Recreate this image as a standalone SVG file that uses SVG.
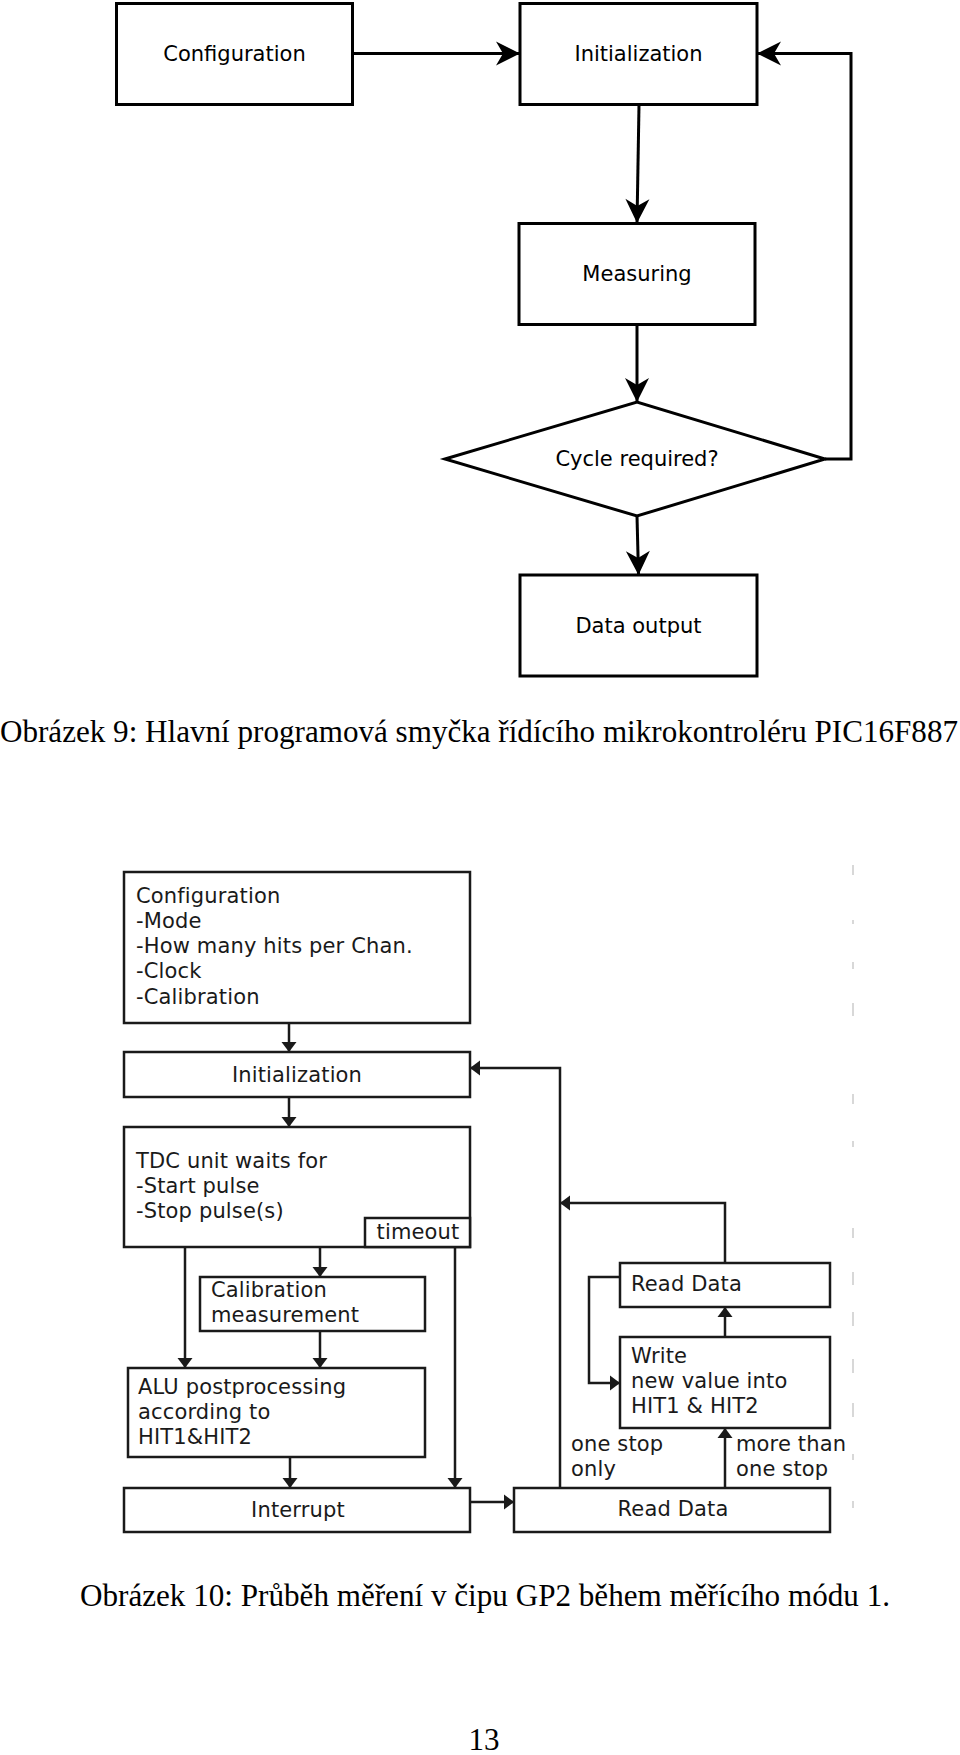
<svg xmlns="http://www.w3.org/2000/svg" width="960" height="1755" viewBox="0 0 960 1755">
<style>
.b1{fill:#fff;stroke:#000;stroke-width:3}
.t1{font-family:"DejaVu Sans",sans-serif;font-size:21px;fill:#000;text-anchor:middle}
.c1{fill:none;stroke:#000;stroke-width:3}
.b2{fill:#fff;stroke:#1a1a1a;stroke-width:2.5}
.t2{font-family:"DejaVu Sans",sans-serif;font-size:21px;letter-spacing:0.15px;fill:#1a1a1a}
.m{text-anchor:middle}
.c2{fill:none;stroke:#1a1a1a;stroke-width:2.5}
.cap{font-family:"Liberation Serif",serif;font-size:31px;fill:#000}
.dash{stroke:#d8d8d8;stroke-width:2}
</style>
<defs>
<marker id="ah1" markerUnits="userSpaceOnUse" viewBox="-26 -14 28 28" markerWidth="28" markerHeight="28" refX="0" refY="0" orient="auto">
<path d="M0,0 L-24,-12 L-17,0 L-24,12 Z" fill="#000"/>
</marker>
<marker id="ah2" markerUnits="userSpaceOnUse" viewBox="-11 -9 12 18" markerWidth="12" markerHeight="18" refX="0" refY="0" orient="auto">
<path d="M0,0 L-10,-7.5 L-10,7.5 Z" fill="#1a1a1a"/>
</marker>
</defs>

<!-- Figure 9 -->
<g id="connectors1">
<line class="c1" x1="353" y1="53.5" x2="520" y2="53.5" marker-end="url(#ah1)"/>
<line class="c1" x1="639" y1="105" x2="637" y2="223" marker-end="url(#ah1)"/>
<line class="c1" x1="637" y1="325" x2="637" y2="402" marker-end="url(#ah1)"/>
<line class="c1" x1="637" y1="516" x2="638.5" y2="575" marker-end="url(#ah1)"/>
<polyline class="c1" points="825,459 851,459 851,53.5 757,53.5" marker-end="url(#ah1)"/>
</g>
<g id="f9-configuration">
<rect class="b1" x="116.5" y="3.5" width="236" height="101"/>
<text class="t1" x="234.5" y="61">Configuration</text>
</g>
<g id="f9-initialization">
<rect class="b1" x="520" y="3.5" width="237" height="101"/>
<text class="t1" x="638.5" y="61">Initialization</text>
</g>
<g id="f9-measuring">
<rect class="b1" x="519" y="223.5" width="236" height="101"/>
<text class="t1" x="637" y="281">Measuring</text>
</g>
<g id="f9-cycle">
<polygon class="b1" points="445,459 637,402 825,459 637,516"/>
<text class="t1" x="637" y="466">Cycle required?</text>
</g>
<g id="f9-output">
<rect class="b1" x="520" y="575" width="237" height="101"/>
<text class="t1" x="638.5" y="633">Data output</text>
</g>

<text class="cap" x="0" y="742" textLength="958" lengthAdjust="spacingAndGlyphs">Obrázek 9: Hlavní programová smyčka řídícího mikrokontroléru PIC16F887</text>

<!-- Figure 10 -->
<g id="connectors2">
<line class="c2" x1="289" y1="1023" x2="289" y2="1052" marker-end="url(#ah2)"/>
<line class="c2" x1="289" y1="1097" x2="289" y2="1127" marker-end="url(#ah2)"/>
<line class="c2" x1="185" y1="1247" x2="185" y2="1368" marker-end="url(#ah2)"/>
<line class="c2" x1="320" y1="1247" x2="320" y2="1277" marker-end="url(#ah2)"/>
<line class="c2" x1="320" y1="1331" x2="320" y2="1368" marker-end="url(#ah2)"/>
<line class="c2" x1="290" y1="1457" x2="290" y2="1488" marker-end="url(#ah2)"/>
<line class="c2" x1="455" y1="1247" x2="455" y2="1488" marker-end="url(#ah2)"/>
<line class="c2" x1="470" y1="1502" x2="514" y2="1502" marker-end="url(#ah2)"/>
<polyline class="c2" points="560,1488 560,1068 470,1068" marker-end="url(#ah2)"/>
<polyline class="c2" points="725,1263 725,1203 560,1203" marker-end="url(#ah2)"/>
<line class="c2" x1="725" y1="1488" x2="725" y2="1428" marker-end="url(#ah2)"/>
<line class="c2" x1="725" y1="1337" x2="725" y2="1307" marker-end="url(#ah2)"/>
<polyline class="c2" points="620,1277 589,1277 589,1383 620,1383" marker-end="url(#ah2)"/>
</g>
<g id="f10-configuration">
<rect class="b2" x="124" y="872" width="346" height="151"/>
<text class="t2" x="136" y="903">Configuration</text>
<text class="t2" x="136" y="928">-Mode</text>
<text class="t2" x="136" y="953">-How many hits per Chan.</text>
<text class="t2" x="136" y="978">-Clock</text>
<text class="t2" x="136" y="1004">-Calibration</text>
</g>
<g id="f10-initialization">
<rect class="b2" x="124" y="1052" width="346" height="45"/>
<text class="t2 m" x="297" y="1082">Initialization</text>
</g>
<g id="f10-tdc">
<rect class="b2" x="124" y="1127" width="346" height="120"/>
<text class="t2" x="136" y="1168">TDC unit waits for</text>
<text class="t2" x="136" y="1193">-Start pulse</text>
<text class="t2" x="136" y="1218">-Stop pulse(s)</text>
</g>
<g id="f10-timeout">
<rect class="b2" x="365" y="1218" width="105" height="29"/>
<text class="t2 m" x="418" y="1239">timeout</text>
</g>
<g id="f10-calibration">
<rect class="b2" x="200" y="1277" width="225" height="54"/>
<text class="t2" x="211" y="1297">Calibration</text>
<text class="t2" x="211" y="1322">measurement</text>
</g>
<g id="f10-alu">
<rect class="b2" x="128" y="1368" width="297" height="89"/>
<text class="t2" x="138" y="1394">ALU postprocessing</text>
<text class="t2" x="138" y="1419">according to</text>
<text class="t2" x="138" y="1444">HIT1&amp;HIT2</text>
</g>
<g id="f10-interrupt">
<rect class="b2" x="124" y="1488" width="346" height="44"/>
<text class="t2 m" x="298" y="1517">Interrupt</text>
</g>
<g id="f10-readdata1">
<rect class="b2" x="514" y="1488" width="316" height="44"/>
<text class="t2 m" x="673" y="1516">Read Data</text>
</g>
<g id="f10-write">
<rect class="b2" x="620" y="1337" width="210" height="91"/>
<text class="t2" x="631" y="1363">Write</text>
<text class="t2" x="631" y="1388">new value into</text>
<text class="t2" x="631" y="1413">HIT1 &amp; HIT2</text>
</g>
<g id="f10-readdata2">
<rect class="b2" x="620" y="1263" width="210" height="44"/>
<text class="t2" x="631" y="1291">Read Data</text>
</g>
<g id="f10-labels">
<text class="t2" x="571" y="1451">one stop</text>
<text class="t2" x="571" y="1476">only</text>
<text class="t2" x="736" y="1451">more than</text>
<text class="t2" x="736" y="1476">one stop</text>
</g>
<g id="f10-edge">
<line class="dash" x1="853" y1="865" x2="853" y2="875"/>
<line class="dash" x1="853" y1="920" x2="853" y2="924"/>
<line class="dash" x1="853" y1="962" x2="853" y2="969"/>
<line class="dash" x1="853" y1="1003" x2="853" y2="1016"/>
<line class="dash" x1="853" y1="1094" x2="853" y2="1104"/>
<line class="dash" x1="853" y1="1141" x2="853" y2="1147"/>
<line class="dash" x1="853" y1="1228" x2="853" y2="1238"/>
<line class="dash" x1="853" y1="1272" x2="853" y2="1285"/>
<line class="dash" x1="853" y1="1312" x2="853" y2="1326"/>
<line class="dash" x1="853" y1="1359" x2="853" y2="1373"/>
<line class="dash" x1="853" y1="1403" x2="853" y2="1417"/>
<line class="dash" x1="853" y1="1454" x2="853" y2="1460"/>
<line class="dash" x1="853" y1="1501" x2="853" y2="1508"/>
</g>

<text class="cap" x="80" y="1606" textLength="810" lengthAdjust="spacingAndGlyphs">Obrázek 10: Průběh měření v čipu GP2 během měřícího módu 1.</text>
<text class="cap" x="484" y="1750" text-anchor="middle">13</text>
</svg>
